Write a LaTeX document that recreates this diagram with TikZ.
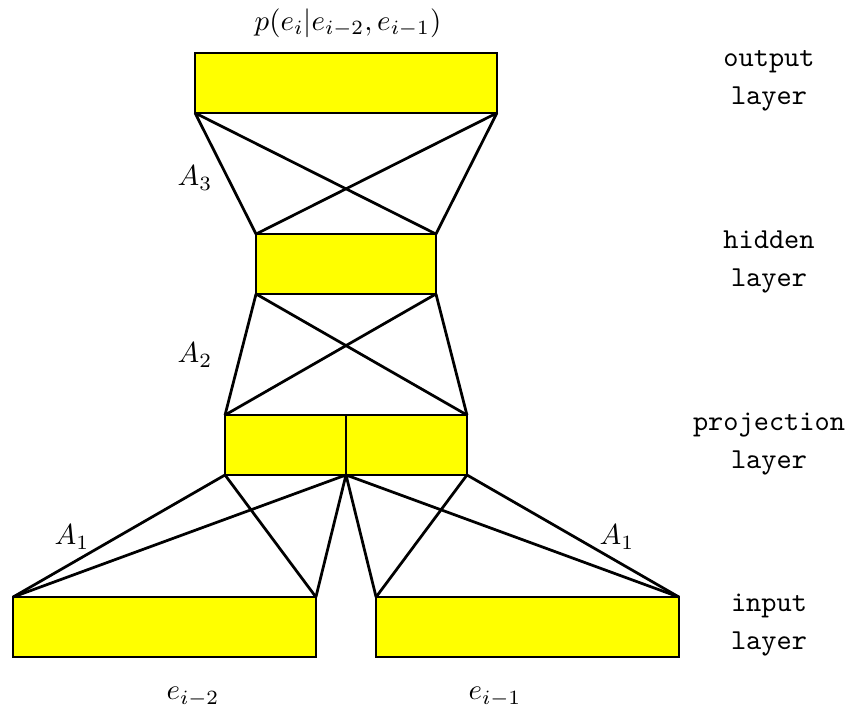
\documentclass[tikz,border=0pt]{standalone}
\usepackage{xcolor}
\usepackage{tikz}
\usetikzlibrary{positioning, calc}
\definecolor{nyellow}{HTML}{FFFF00}

\begin{document}
\begin{tikzpicture}[x=0.01214cm, y=-0.01214cm,
  layerbox/.style={draw=black, fill=nyellow, line width=0.95pt, outer sep=0pt, inner sep=0pt, minimum height=0.728cm},
  layerlbl/.style={font=\ttfamily, align=center},
  wire/.style={line width=0.95pt}]
\useasboundingbox (0,0) rectangle (846,711);
% boxes
\node[layerbox, minimum width=3.666cm] (out) at (346,83) {};
\node[layerbox, minimum width=2.185cm] (hid) at (346,264) {};
\node[layerbox, minimum width=1.469cm] (projL) at (285.5,445) {};
\node[layerbox, minimum width=1.469cm] (projR) at (406.5,445) {};
\node[layerbox, minimum width=3.678cm] (inL) at (164.5,627) {};
\node[layerbox, minimum width=3.678cm] (inR) at (527.5,627) {};
% connections
\draw[wire] (out.south west) -- (hid.north west) (out.south west) -- (hid.north east);
\draw[wire] (out.south east) -- (hid.north west) (out.south east) -- (hid.north east);
\draw[wire] (hid.south west) -- (projL.north west) (hid.south west) -- (projR.north east);
\draw[wire] (hid.south east) -- (projL.north west) (hid.south east) -- (projR.north east);
\draw[wire] (projL.south west) -- (inL.north west) (projL.south west) -- (inL.north east);
\draw[wire] (projL.south east) -- (inL.north west) (projL.south east) -- (inL.north east);
\draw[wire] (projR.south west) -- (inR.north west) (projR.south west) -- (inR.north east);
\draw[wire] (projR.south east) -- (inR.north west) (projR.south east) -- (inR.north east);
% weights
\node (a3) at (195,178) {$A_3$};
\node (a2) at (195,355) {$A_2$};
\node (a1l) at (72,537) {$A_1$};
\node (a1r) at (617,537) {$A_1$};
% inputs / output
\node (prob) at (348,23) {$p(e_i|e_{i-2},e_{i-1})$};
\node (eprev2) at (193,697) {$e_{i-2}$};
\node (eprev1) at (495,697) {$e_{i-1}$};
% layer names
\node[layerlbl] (lout) at (769,81) {output\\[1.2pt]layer};
\node[layerlbl] (lhid) at (769,262) {hidden\\[1.2pt]layer};
\node[layerlbl] (lproj) at (769,444) {projection\\[1.2pt]layer};
\node[layerlbl] (lin) at (769,625) {input\\[1.2pt]layer};
\end{tikzpicture}
\end{document}
